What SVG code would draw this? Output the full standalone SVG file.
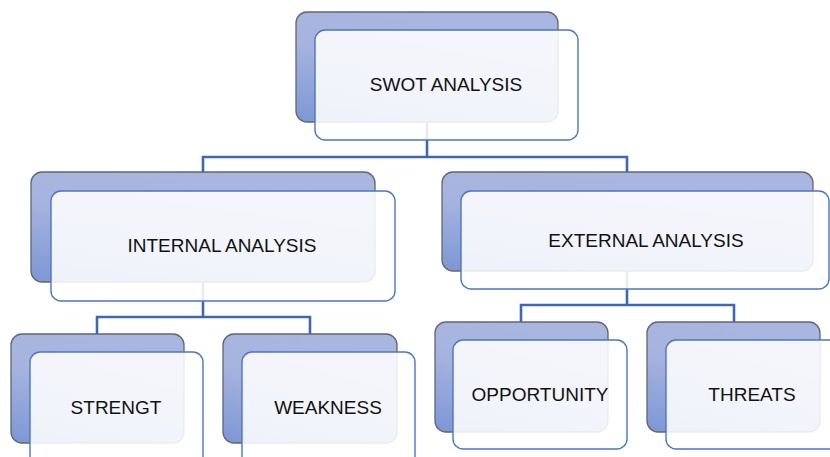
<svg xmlns="http://www.w3.org/2000/svg" width="830" height="457" viewBox="0 0 830 457">
  <defs>
    <linearGradient id="backFill" x1="0.55" y1="0" x2="0.1" y2="1">
      <stop offset="0" stop-color="#a9b7e0"/>
      <stop offset="0.45" stop-color="#a5b3de"/>
      <stop offset="1" stop-color="#7f98d6"/>
    </linearGradient>
    <style>
      .back { fill: url(#backFill); stroke: #62666f; stroke-width: 1.3; }
      .front { fill: #ffffff; fill-opacity: 0.87; stroke: #4a76c8; stroke-width: 1.4; }
      .label { font-family: "Liberation Sans", Arial, sans-serif; font-size: 19px; fill: #111111; text-anchor: middle; }
      .conn { fill: none; stroke: #3f68b2; stroke-width: 2.6; }
    </style>
  </defs>
  <rect width="830" height="457" fill="#ffffff"/>

  <g id="connectors">
    <path class="conn" d="M427 121 V157 M203 173 V157 H627 V172"/>
    <path class="conn" d="M203 282 V317 M97 334 V317 H310 V334"/>
    <path class="conn" d="M627 271 V305 M521 322 V305 H734 V322"/>
  </g>

  <g id="swot">
    <rect class="back" x="296" y="12" width="262" height="110" rx="11"/>
    <rect class="front" x="315" y="30" width="263" height="110" rx="10"/>
    <text class="label" x="446" y="91">SWOT ANALYSIS</text>
  </g>

  <g id="internal">
    <rect class="back" x="31" y="172" width="344" height="110" rx="11"/>
    <rect class="front" x="51" y="191" width="344" height="110" rx="10"/>
    <text class="label" x="222" y="252">INTERNAL ANALYSIS</text>
  </g>

  <g id="external">
    <rect class="back" x="442" y="172" width="371" height="99" rx="11"/>
    <rect class="front" x="461" y="191" width="368" height="98" rx="10"/>
    <text class="label" x="646" y="247">EXTERNAL ANALYSIS</text>
  </g>

  <g id="strength">
    <rect class="back" x="11" y="334" width="173" height="109" rx="11"/>
    <rect class="front" x="30" y="352" width="173" height="115" rx="10"/>
    <text class="label" x="116" y="414">STRENGT</text>
  </g>

  <g id="weakness">
    <rect class="back" x="223" y="334" width="174" height="109" rx="11"/>
    <rect class="front" x="242" y="352" width="173" height="115" rx="10"/>
    <text class="label" x="328" y="414">WEAKNESS</text>
  </g>

  <g id="opportunity">
    <rect class="back" x="435" y="322" width="173" height="110" rx="11"/>
    <rect class="front" x="453" y="340" width="174" height="109" rx="10"/>
    <text class="label" x="540" y="401">OPPORTUNITY</text>
  </g>

  <g id="threats">
    <rect class="back" x="647" y="322" width="173" height="110" rx="11"/>
    <rect class="front" x="666" y="340" width="174" height="109" rx="10"/>
    <text class="label" x="752" y="401">THREATS</text>
  </g>
</svg>
